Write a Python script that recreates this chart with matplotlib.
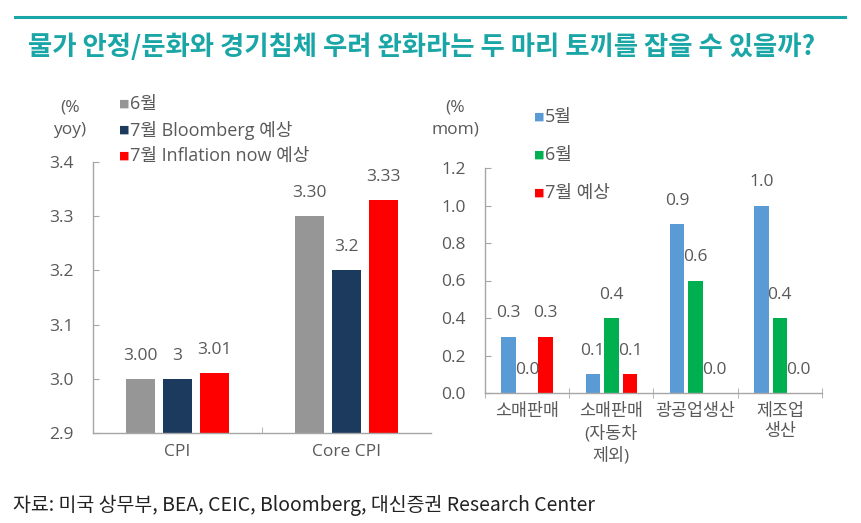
import numpy as np
import matplotlib.pyplot as plt
import matplotlib.lines as mlines

plt.rcParams['font.family'] = ['Open Sans', 'Noto Sans CJK KR', 'DejaVu Sans']

# Left chart data (% yoy)
left_cats = ['CPI', 'Core CPI']
left_series = ['6월', '7월 Bloomberg 예상', '7월 Inflation now 예상']
left_values = [[3.00, 3.30], [3.0, 3.2], [3.01, 3.33]]
left_labels = [['3.00', '3.30'], ['3', '3.2'], ['3.01', '3.33']]
left_colors = ['#969696', '#1B3A5E', '#FF0000']

# Right chart data (% mom)
right_cats = ['소매판매', '소매판매\n(자동차\n제외)', '광공업생산', '제조업\n생산']
right_series = ['5월', '6월', '7월 예상']
right_values = [[0.3, 0.1, 0.9, 1.0], [0.0, 0.4, 0.6, 0.4], [0.3, 0.1, 0.0, 0.0]]
right_colors = ['#5B9BD5', '#00B050', '#FF0000']

TEXT = '#595959'
AXIS = '#A6A6A6'
FS = 12.5
W, H = 862, 523

fig = plt.figure(figsize=(W / 100, H / 100), dpi=100)


def px_axes(x0, y0, x1, y1):
    return fig.add_axes([x0 / W, 1 - y1 / H, (x1 - x0) / W, (y1 - y0) / H])


def style_axes(ax):
    for s in ['top', 'right']:
        ax.spines[s].set_visible(False)
    for s in ['left', 'bottom']:
        ax.spines[s].set_color(AXIS)
        ax.spines[s].set_linewidth(1.0)
    ax.tick_params(axis='y', direction='in', color=AXIS, length=4, labelcolor=TEXT,
                   labelsize=FS, pad=14)
    ax.tick_params(axis='x', which='major', length=0, labelcolor=TEXT, labelsize=FS, pad=8)


# ---- left chart ----
axl = px_axes(93, 162, 431, 433)
style_axes(axl)
x = np.arange(len(left_cats))
bw = 0.175
offs = [-0.22, 0, 0.22]
for i, vals in enumerate(left_values):
    axl.bar(x + offs[i], [v - 2.9 for v in vals], bw, bottom=2.9, color=left_colors[i], zorder=2)
    for j, v in enumerate(vals):
        axl.annotate(left_labels[i][j], (x[j] + offs[i], v), xytext=(0, 11), textcoords='offset points',
                     ha='center', va='bottom', color=TEXT, fontsize=FS)
axl.set_xlim(-0.5, 1.5)
axl.set_ylim(2.9, 3.4)
axl.set_yticks([2.9, 3.0, 3.1, 3.2, 3.3, 3.4])
axl.set_yticklabels(['2.9', '3.0', '3.1', '3.2', '3.3', '3.4'])
axl.set_xticks(x)
axl.set_xticklabels(left_cats)
axl.set_xticks([0.5], minor=True)
axl.tick_params(axis='x', which='minor', direction='in', length=4, color=AXIS)
fig.text(70 / W, 1 - 119 / H, '(%\nyoy)', ha='center', va='center', color=TEXT, fontsize=FS,
         linespacing=1.5)
for i, name in enumerate(left_series):
    yy = 1 - (104 + i * 26) / H
    fig.text(119 / W, yy, '■', ha='left', va='center', color=left_colors[i], fontsize=8,
             family=['DejaVu Sans'])
    fig.text(130 / W, yy, name, ha='left', va='center', color=TEXT, fontsize=13)

# ---- right chart ----
axr = px_axes(485, 168, 822, 393)
style_axes(axr)
x = np.arange(len(right_cats))
bw = 0.17
for i, vals in enumerate(right_values):
    axr.bar(x + offs[i], vals, bw, color=right_colors[i], zorder=2)
    for j, v in enumerate(vals):
        axr.annotate(f'{v:.1f}', (x[j] + offs[i], v), xytext=(0, 11), textcoords='offset points',
                     ha='center', va='bottom', color=TEXT, fontsize=FS)
axr.set_xlim(-0.5, 3.5)
axr.set_ylim(0, 1.2)
axr.set_yticks(np.arange(0, 1.21, 0.2))
axr.set_yticklabels([f'{v:.1f}' for v in np.arange(0, 1.21, 0.2)])
axr.set_xticks(x)
axr.set_xticklabels(right_cats, linespacing=1.35, va='top')
axr.set_xticks([-0.5, 0.5, 1.5, 2.5, 3.5], minor=True)
axr.tick_params(axis='x', which='minor', direction='inout', length=7, color=AXIS)
fig.text(455 / W, 1 - 119 / H, '(%\nmom)', ha='center', va='center', color=TEXT, fontsize=FS,
         linespacing=1.5)
for i, name in enumerate(right_series):
    yy = 1 - (117 + i * 38) / H
    fig.text(534 / W, yy, '■', ha='left', va='center', color=right_colors[i], fontsize=8,
             family=['DejaVu Sans'])
    fig.text(545 / W, yy, name, ha='left', va='center', color=TEXT, fontsize=13)

# ---- title, rule, source ----
fig.add_artist(mlines.Line2D([15 / W, 845 / W], [1 - 17 / H, 1 - 17 / H], color='#1AA6A6', lw=2.2))
fig.text(422 / W, 1 - 47 / H, '물가 안정/둔화와 경기침체 우려 완화라는 두 마리 토끼를 잡을 수 있을까?',
         ha='center', va='center', color='#1AA6A6', fontsize=19, fontweight='bold',
         family=['Noto Sans CJK KR'])
fig.text(13 / W, 1 - 505 / H, '자료: 미국 상무부, BEA, CEIC, Bloomberg, 대신증권 Research Center',
         ha='left', va='center', color='#222222', fontsize=14, family=['Noto Sans CJK KR'])

fig.savefig('out.png', dpi=100)
